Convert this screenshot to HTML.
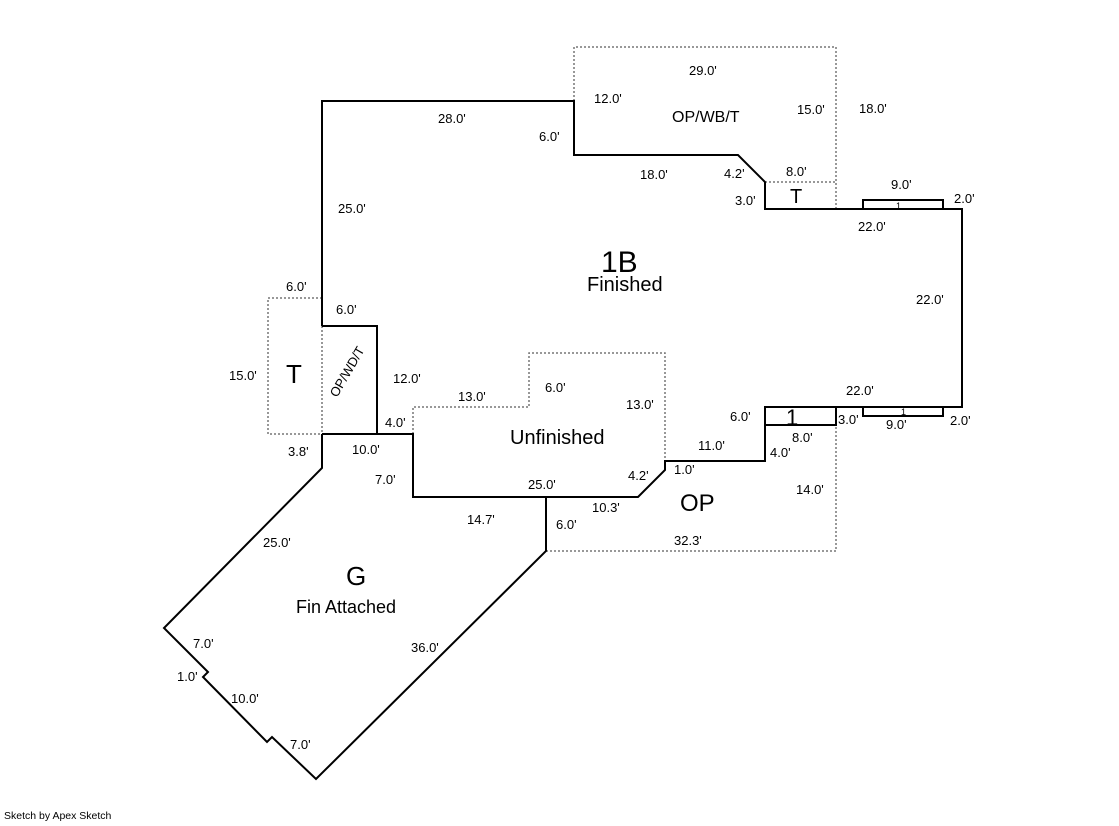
<!DOCTYPE html>
<html><head><style>
body{margin:0;background:#fff;width:1119px;height:821px;overflow:hidden}
svg text{font-family:"Liberation Sans",Arial,sans-serif;font-size:13px;fill:#000}
</style></head><body>
<svg width="1119" height="821" viewBox="0 0 1119 821">
<g fill="none" stroke="#777" stroke-width="1.5" stroke-dasharray="2,2">
<polyline points="574,101 574,47 836,47 836,209"/>
<line x1="765" y1="182" x2="836" y2="182"/>
<polyline points="322,298 268,298 268,434 322,434"/>
<line x1="322" y1="326" x2="322" y2="434"/>
<polyline points="413,434 413,407 529,407 529,353 665,353 665,461"/>
<polyline points="546,551 836,551 836,425"/>
</g>
<g fill="none" stroke="#000" stroke-width="2">
<polyline points="322,326 322,101 574,101 574,155 738,155 765,182 765,209 962,209 962,407 765,407 765,461 665,461 665,470 638,497 413,497 413,434 322,434"/>
<polyline points="377,434 377,326 322,326"/>
<polyline points="322,434 322,468 164,628 208,672 203,677 267,742 272,737 316,779 546,551 546,497"/>
<rect x="765" y="407" width="71" height="18"/>
<polyline points="863,209 863,200 943,200 943,209"/>
<polyline points="863,407 863,416 943,416 943,407"/>
</g>
<text x="689" y="75">29.0'</text>
<text x="594" y="103">12.0'</text>
<text x="672" y="122" style="font-size:16px">OP/WB/T</text>
<text x="797" y="114">15.0'</text>
<text x="859" y="113">18.0'</text>
<text x="438" y="123">28.0'</text>
<text x="539" y="141">6.0'</text>
<text x="640" y="179">18.0'</text>
<text x="724" y="178">4.2'</text>
<text x="786" y="176">8.0'</text>
<text x="790" y="203" style="font-size:20px">T</text>
<text x="735" y="205">3.0'</text>
<text x="891" y="189">9.0'</text>
<text x="896" y="209" style="font-size:9px">1</text>
<text x="954" y="203">2.0'</text>
<text x="858" y="231">22.0'</text>
<text x="338" y="213">25.0'</text>
<text x="601" y="272" style="font-size:30px">1B</text>
<text x="587" y="291" style="font-size:20px">Finished</text>
<text x="916" y="304">22.0'</text>
<text x="286" y="291">6.0'</text>
<text x="336" y="314">6.0'</text>
<text x="286" y="383" style="font-size:26px">T</text>
<text x="229" y="380">15.0'</text>
<text transform="translate(337,398) rotate(-60)" style="font-size:13px">OP/WD/T</text>
<text x="393" y="383">12.0'</text>
<text x="458" y="401">13.0'</text>
<text x="545" y="392">6.0'</text>
<text x="626" y="409">13.0'</text>
<text x="385" y="427">4.0'</text>
<text x="510" y="444" style="font-size:20px">Unfinished</text>
<text x="846" y="395">22.0'</text>
<text x="730" y="421">6.0'</text>
<text x="786" y="425" style="font-size:22px">1</text>
<text x="838" y="424">3.0'</text>
<text x="901" y="415" style="font-size:9px">1</text>
<text x="886" y="429">9.0'</text>
<text x="950" y="425">2.0'</text>
<text x="792" y="442">8.0'</text>
<text x="698" y="450">11.0'</text>
<text x="770" y="457">4.0'</text>
<text x="288" y="456">3.8'</text>
<text x="352" y="454">10.0'</text>
<text x="375" y="484">7.0'</text>
<text x="628" y="480">4.2'</text>
<text x="674" y="474">1.0'</text>
<text x="528" y="489">25.0'</text>
<text x="592" y="512">10.3'</text>
<text x="680" y="511" style="font-size:24px">OP</text>
<text x="796" y="494">14.0'</text>
<text x="467" y="524">14.7'</text>
<text x="556" y="529">6.0'</text>
<text x="674" y="545">32.3'</text>
<text x="263" y="547">25.0'</text>
<text x="346" y="585" style="font-size:26px">G</text>
<text x="296" y="613" style="font-size:18px">Fin Attached</text>
<text x="193" y="648">7.0'</text>
<text x="411" y="652">36.0'</text>
<text x="177" y="681">1.0'</text>
<text x="231" y="703">10.0'</text>
<text x="290" y="749">7.0'</text>
<text x="4" y="819" style="font-size:10.5px">Sketch by Apex Sketch</text>
</svg>
</body></html>
